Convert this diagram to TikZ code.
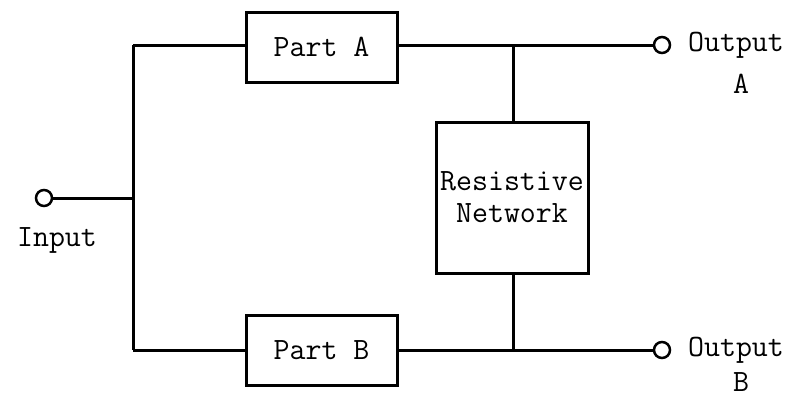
\documentclass[tikz,border=0pt]{standalone}
\begin{document}
\begin{tikzpicture}[x=1pt,y=-1pt,line width=3pt,
  every node/.style={font=\fontsize{31}{34}\selectfont\ttfamily},
  block/.style={draw,rectangle,minimum width=151pt,minimum height=70pt,inner sep=0pt},
  port/.style={draw,circle,line width=2.5pt,minimum size=16pt,inner sep=0pt},
  lbl/.style={inner sep=0pt}]
\useasboundingbox (0,0) rectangle (793,400);
% ports
\node[port] (in) at (44,198) {};
\node[port] (outA) at (662,45) {};
\node[port] (outB) at (662,350) {};
% blocks
\node[block] (pa) at (321.5,47) {Part A};
\node[block] (pb) at (321.5,350) {Part B};
\node[block,minimum width=152pt,minimum height=151pt,align=center] (rn) at (512,197.5) {Resistive\\[-2pt]Network};
% junction points
\coordinate (bus) at (133,198);
\coordinate (busT) at (133,45);
\coordinate (busB) at (133,350);
\coordinate (jA) at (513,45);
\coordinate (jB) at (513,350);
% wiring
\draw (in) -- (bus);
\draw (busT) -- (busB);
\draw (busT) -- (pa.west |- busT);
\draw (busB) -- (pb.west |- busB);
\draw (pa.east |- jA) -- (outA);
\draw (pb.east |- jB) -- (outB);
\draw (jA) -- (jA |- rn.north);
\draw (jB |- rn.south) -- (jB);
% labels
\node[lbl] (tin) at (57,240) {Input};
\node[lbl] (toa) at (736,45) {Output};
\node[lbl] (ta) at (741,84) {A};
\node[lbl] (tob) at (736,350) {Output};
\node[lbl] (tb) at (741,382) {B};
\end{tikzpicture}
\end{document}
